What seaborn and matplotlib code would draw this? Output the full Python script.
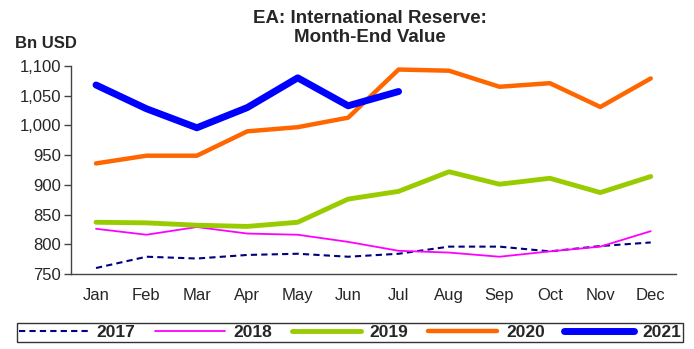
import matplotlib
matplotlib.use("Agg")
import matplotlib.pyplot as plt
import seaborn as sns
import pandas as pd

months = ["Jan", "Feb", "Mar", "Apr", "May", "Jun", "Jul", "Aug", "Sep", "Oct", "Nov", "Dec"]
v2017 = [760, 779, 776, 782, 784, 779, 784, 796, 796, 788, 797, 803]
v2018 = [826, 816, 829, 818, 816, 804, 789, 786, 779, 788, 796, 822]
v2019 = [837, 836, 832, 830, 837, 876, 889, 922, 901, 911, 887, 914]
v2020 = [936, 949, 949, 990, 997, 1013, 1094, 1092, 1065, 1071, 1031, 1079]
v2021 = [1068, 1028, 996, 1030, 1080, 1033, 1057]
yticks = [750, 800, 850, 900, 950, 1000, 1050, 1100]

series = {"2017": v2017, "2018": v2018, "2019": v2019, "2020": v2020, "2021": v2021}
rows = []
for name, vals in series.items():
    for i, v in enumerate(vals):
        rows.append({"year": name, "month": i, "value": v})
df = pd.DataFrame(rows)

sns.set_style("white")
plt.rcParams["font.family"] = ["Liberation Sans", "DejaVu Sans"]

fig = plt.figure(figsize=(6.94, 3.49), dpi=100)
ax = fig.add_axes([0.102, 0.215, 0.872, 0.596])

styles = {
    "2017": dict(color="#000080", lw=1.5, ls=(0, (3, 2))),
    "2018": dict(color="#FF00FF", lw=1.3, ls="-"),
    "2019": dict(color="#99CC00", lw=3.5, ls="-"),
    "2020": dict(color="#FF6600", lw=3.2, ls="-"),
    "2021": dict(color="#0000FF", lw=5, ls="-"),
}
for name in series:
    st = styles[name]
    sns.lineplot(data=df[df.year == name], x="month", y="value", ax=ax,
                 color=st["color"], linewidth=st["lw"], linestyle=st["ls"],
                 label=name, legend=False)

ax.set_xlim(-0.5, 11.5)
ax.set_ylim(750, 1100)
ax.set_yticks(yticks)
ax.set_yticklabels([f"{t:,}" for t in yticks], fontsize=12)
ax.set_xticks(range(12))
ax.set_xticklabels(months, fontsize=12)
ax.set_xticks([i - 0.5 for i in range(13)], minor=True)
ax.tick_params(axis="x", which="major", length=0, pad=10)
ax.tick_params(axis="x", which="minor", length=5, width=1, color="#444444", direction="out")
ax.tick_params(axis="y", length=5, width=1, color="#444444", direction="out", left=True, pad=2)
ax.set_xlabel("")
ax.set_ylabel("")
for s in ["top", "right"]:
    ax.spines[s].set_visible(False)
for s in ["left", "bottom"]:
    ax.spines[s].set_color("#444444")
    ax.spines[s].set_linewidth(1)

fig.text(0.533, 0.972, "EA: International Reserve:\nMonth-End Value", ha="center", va="top",
         fontsize=13.5, fontweight="bold", linespacing=1.2)
fig.text(0.021, 0.855, "Bn USD", ha="left", va="bottom", fontsize=12, fontweight="bold")

handles, labels = ax.get_legend_handles_labels()
leg = fig.legend(handles, labels, loc="lower left", bbox_to_anchor=(17/694, 0.02, 666/694, 0.069),
                 mode="expand", ncol=5, frameon=True, fancybox=False, edgecolor="black",
                 prop={"weight": "bold", "size": 12.5}, handlelength=4.0,
                 borderpad=0.1, handletextpad=0.5, borderaxespad=0)
leg.get_frame().set_linewidth(1)

fig.savefig("out.png", dpi=100)
